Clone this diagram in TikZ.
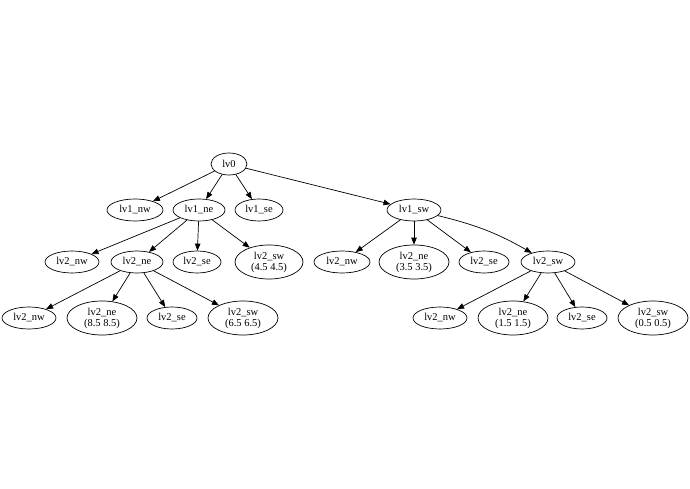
\documentclass[tikz,border=0pt]{standalone}
\usepackage{fontspec}
\setmainfont{Liberation Serif}
\usetikzlibrary{shapes.geometric,arrows.meta}
\begin{document}
\begin{tikzpicture}[x=1pt,y=-1pt,
  every node/.style={font=\fontsize{10.5}{11}\selectfont},
  tnode/.style={ellipse,draw,line width=0.7pt,inner sep=0pt,minimum width=#1*2,minimum height=22},
  tnode/.default=27,
  tall/.style={ellipse,draw,line width=0.7pt,inner sep=0pt,minimum width=70,minimum height=34,align=center},
  edge/.style={line width=0.7pt,-{Triangle[length=7pt,width=5.5pt]}}]
\useasboundingbox (0,0) rectangle (690,489);
% root and first level
\node[tnode=18] (r) at (229,164) {lv0};
\node[tnode=28] (a1) at (135,210) {lv1\_nw};
\node[tnode=26] (a2) at (199,210) {lv1\_ne};
\node[tnode=24] (a3) at (259,210) {lv1\_se};
\node[tnode=27] (a4) at (414,210) {lv1\_sw};
% second level under lv1_ne
\node[tnode=27] (b1) at (72,262) {lv2\_nw};
\node[tnode=26] (b2) at (137,262) {lv2\_ne};
\node[tnode=24] (b3) at (197,262) {lv2\_se};
\node[tall,minimum width=68] (b4) at (269,262) {lv2\_sw\\(4.5 4.5)};
% second level under lv1_sw
\node[tnode=28] (c1) at (342,262) {lv2\_nw};
\node[tall] (c2) at (414,262) {lv2\_ne\\(3.5 3.5)};
\node[tnode=25] (c3) at (484,262) {lv2\_se};
\node[tnode=27] (c4) at (548,262) {lv2\_sw};
% third level under lv2_ne
\node[tnode=27] (d1) at (29,318) {lv2\_nw};
\node[tall] (d2) at (102,318) {lv2\_ne\\(8.5 8.5)};
\node[tnode=25] (d3) at (172,318) {lv2\_se};
\node[tall] (d4) at (243,318) {lv2\_sw\\(6.5 6.5)};
% third level under lv2_sw
\node[tnode=27] (e1) at (440,318) {lv2\_nw};
\node[tall] (e2) at (513,318) {lv2\_ne\\(1.5 1.5)};
\node[tnode=25] (e3) at (582,318) {lv2\_se};
\node[tall] (e4) at (653,318) {lv2\_sw\\(0.5 0.5)};
% connectors
\foreach \p/\c in {r/a1,r/a2,r/a3,r/a4,
                   a2/b1,a2/b2,a2/b3,a2/b4,
                   a4/c1,a4/c2,a4/c3,
                   b2/d1,b2/d2,b2/d3,b2/d4,
                   c4/e1,c4/e2,c4/e3,c4/e4}
  \draw[edge] (\p) -- (\c);
\draw[edge] (a4) to[bend left=8] (c4);
\end{tikzpicture}
\end{document}
